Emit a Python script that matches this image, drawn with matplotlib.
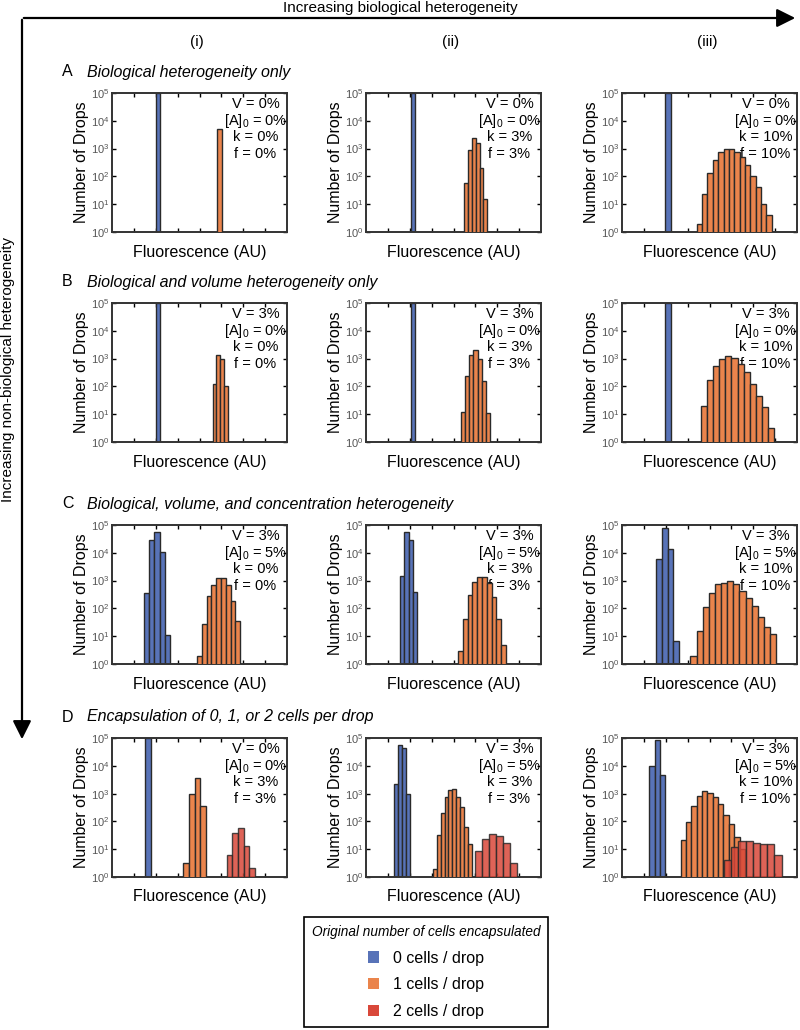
import numpy as np
import matplotlib.pyplot as plt
from matplotlib.patches import Patch

plt.rcParams['font.family'] = ['Liberation Sans', 'DejaVu Sans']
plt.rcParams['mathtext.fontset'] = 'custom'
plt.rcParams['mathtext.rm'] = 'Liberation Sans'
plt.rcParams['mathtext.it'] = 'Liberation Sans:italic'

# histogram data: (first bin centre, bin width, counts) per population
A1_blue = (2.1, 0.2, [1e5])
A1_orange = (4.9, 0.22, [5000])
A2_blue = (2.15, 0.2, [1e5])
A2_orange = (4.56, 0.18, [60, 900, 2400, 1600, 200, 15])
A3_blue = (2.1, 0.25, [1e5])
A3_orange = (3.54, 0.245, [2, 24, 135, 400, 770, 980, 950, 780, 480, 255, 100, 42, 10.5, 4.2])

B1_blue = (2.1, 0.2, [1e5])
B1_orange = (4.69, 0.17, [125, 1300, 950, 100])
B2_blue = (2.15, 0.2, [1e5])
B2_orange = (4.435, 0.19, [12, 245, 1380, 2100, 970, 152, 11])
B3_blue = (2.1, 0.25, [1e5])
B3_orange = (3.74, 0.28, [20, 175, 530, 970, 1200, 1050, 660, 330, 125, 47, 18, 3.2])

C1_blue = (1.59, 0.235, [370, 29000, 57000, 11000, 11.5])
C1_orange = (3.99, 0.22, [2, 28, 280, 680, 1200, 1200, 680, 185, 35])
C2_blue = (1.65, 0.2, [1500, 55000, 30000, 400])
C2_orange = (4.31, 0.22, [3, 40, 300, 900, 1400, 1400, 800, 250, 40, 5])
C3_blue = (1.675, 0.27, [6000, 80000, 14000, 6.5])
C3_orange = (3.27, 0.28, [2, 15, 110, 360, 740, 850, 970, 740, 440, 240, 125, 51, 21, 12.5])

D1_blue = (1.64, 0.26, [1e5])
D1_orange = (3.39, 0.26, [3.2, 970, 3600, 370])
D1_red = (5.37, 0.26, [6.3, 38, 58, 13.4, 2.1])
D2_blue = (1.37, 0.18, [2200, 55000, 44000, 940])
D2_orange = (3.14, 0.18, [2, 33, 195, 770, 1340, 1420, 770, 320, 65, 15.6])
D2_red = (5.14, 0.32, [8.7, 23, 35, 31, 17, 3.2])
D3_blue = (1.37, 0.24, [10000, 87000, 4500])
D3_orange = (2.80, 0.245, [22, 93, 370, 850, 1200, 1050, 740, 440, 175, 80, 27, 10])
D3_red = (4.825, 0.33, [4, 12, 19, 19, 17, 15.7, 16, 6.3])

# parameter labels (V, [A]0, k, f) per panel
params = [
    [("0%", "0%", "0%", "0%"), ("0%", "0%", "3%", "3%"), ("0%", "0%", "10%", "10%")],
    [("3%", "0%", "0%", "0%"), ("3%", "0%", "3%", "3%"), ("3%", "0%", "10%", "10%")],
    [("3%", "5%", "0%", "0%"), ("3%", "5%", "3%", "3%"), ("3%", "5%", "10%", "10%")],
    [("0%", "0%", "3%", "3%"), ("3%", "5%", "3%", "3%"), ("3%", "5%", "10%", "10%")],
]
row_letters = ["A", "B", "C", "D"]
row_titles = ["Biological heterogeneity only",
              "Biological and volume heterogeneity only",
              "Biological, volume, and concentration heterogeneity",
              "Encapsulation of 0, 1, or 2 cells per drop"]
col_labels = ["(i)", "(ii)", "(iii)"]
legend_labels = ["0 cells / drop", "1 cells / drop", "2 cells / drop"]

panels = [
    [[A1_blue, A1_orange], [A2_blue, A2_orange], [A3_blue, A3_orange]],
    [[B1_blue, B1_orange], [B2_blue, B2_orange], [B3_blue, B3_orange]],
    [[C1_blue, C1_orange], [C2_blue, C2_orange], [C3_blue, C3_orange]],
    [[D1_blue, D1_orange, D1_red], [D2_blue, D2_orange, D2_red], [D3_blue, D3_orange, D3_red]],
]

colors = ["#5873B8", "#EA844C", "#D9483A"]
alphas = [1.0, 1.0, 0.85]
edge = "#2a2a2a"

W, H = 800, 1030
fig = plt.figure(figsize=(8, 10.3), dpi=100)

# overlay for arrows and labels, in pixel coordinates
ov = fig.add_axes([0, 0, 1, 1])
ov.set_xlim(0, W)
ov.set_ylim(H, 0)
ov.axis('off')
ov.annotate('', xy=(798, 18), xytext=(21, 18),
            arrowprops=dict(arrowstyle='-|>', lw=1.6, color='black', mutation_scale=28))
ov.annotate('', xy=(22, 742), xytext=(22, 17),
            arrowprops=dict(arrowstyle='-|>', lw=1.6, color='black', mutation_scale=28))
ov.text(400, 8, "Increasing biological heterogeneity", ha='center', va='center', fontsize=11)
ov.text(8, 370, "Increasing non-biological heterogeneity", ha='center', va='center',
        rotation=90, fontsize=11)

col_left = [112, 366, 622]
row_top = [93, 303, 525, 738]
aw, ah = 175, 139

for j, lab in enumerate(col_labels):
    ov.text(col_left[j] + 85, 42, lab, ha='center', va='center', fontsize=11)

for i in range(4):
    ov.text(62, row_top[i] - 21, row_letters[i], ha='left', va='center', fontsize=11.5)
    ov.text(87, row_top[i] - 21, row_titles[i], ha='left', va='center', fontsize=11.5,
            style='italic')
    for j in range(3):
        ax = fig.add_axes([col_left[j] / W, 1 - (row_top[i] + ah) / H, aw / W, ah / H])
        for k, (x0, w, counts) in enumerate(panels[i][j]):
            xs = x0 + w * np.arange(len(counts))
            ax.bar(xs, counts, width=w, color=colors[k], edgecolor=edge, linewidth=1.0,
                   alpha=alphas[k], zorder=2 + k)
        ax.set_yscale('log')
        ax.set_ylim(1, 1e5)
        ax.set_xlim(0, 8)
        ax.set_xticks(np.arange(1, 8))
        ax.set_xticklabels([])
        ax.set_yticks([1, 10, 100, 1e3, 1e4, 1e5])
        ax.yaxis.set_minor_locator(plt.NullLocator())
        ax.tick_params(direction='in', top=True, right=True, length=3, width=1,
                       labelsize=8, labelcolor='#555555', pad=2)
        for s in ax.spines.values():
            s.set_linewidth(1.4)
            s.set_color('#333333')
        ax.set_xlabel("Fluorescence (AU)", fontsize=11.5, labelpad=7)
        ax.set_ylabel("Number of Drops", fontsize=11.5, labelpad=1)
        v, a0, kk, f = params[i][j]
        txt = ["V = " + v, "[A]$_\\mathregular{0}$ = " + a0, "k = " + kk, "f = " + f]
        for n, t in enumerate(txt):
            ax.text(0.82, 0.92 - 0.12 * n, t, transform=ax.transAxes, ha='center',
                    va='center', fontsize=10.5, zorder=1.5)

handles = [Patch(facecolor=c, edgecolor='none') for c in colors]
leg = fig.legend(handles, legend_labels, loc='center', bbox_to_anchor=(426 / W, 1 - 972 / H),
                 title="Original number of cells encapsulated", fontsize=11.5,
                 title_fontproperties={'style': 'italic', 'size': 9.8},
                 frameon=True, fancybox=False, edgecolor='black', framealpha=1,
                 handlelength=0.7, handleheight=0.7, handletextpad=0.9,
                 labelspacing=0.75, borderpad=0.5)
leg.get_frame().set_linewidth(1.2)

fig.savefig("out.png", dpi=100)
